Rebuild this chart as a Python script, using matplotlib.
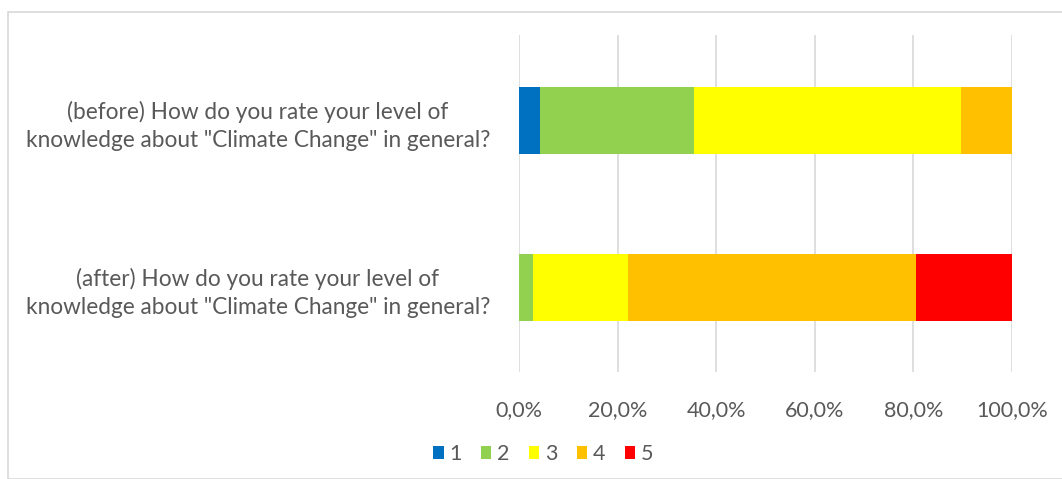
import matplotlib.pyplot as plt
from matplotlib.patches import Rectangle

questions = ['(before) How do you rate your level of\nknowledge about "Climate Change" in general?',
             '(after) How do you rate your level of\nknowledge about "Climate Change" in general?']
levels = ['1', '2', '3', '4', '5']
before = [4.2, 31.2, 54.2, 10.4, 0.0]
after = [0.0, 2.8, 19.4, 58.4, 19.4]
colors = ['#0070c0', '#92d050', '#ffff00', '#ffc000', '#ff0000']
ticks = [0, 20, 40, 60, 80, 100]

txt = '#595959'
plt.rcParams['font.family'] = ['Lato', 'DejaVu Sans']

fig = plt.figure(figsize=(10.62, 4.79), dpi=100)
fig.patches.append(Rectangle((8 / 1062, 0), 1.0, 1 - 12 / 479, transform=fig.transFigure,
                             fill=False, edgecolor='#d9d9d9', linewidth=1.2))
ax = fig.add_axes([519 / 1062, 1 - 372 / 479, 493 / 1062, 337 / 479])

data = [before, after]
for i in range(len(levels)):
    vals = [d[i] for d in data]
    lefts = [sum(d[:i]) for d in data]
    ax.barh([0, 1], vals, left=lefts, height=0.4, color=colors[i], label=levels[i], zorder=3)

ax.set_xlim(0, 100)
ax.set_ylim(1.506, -0.512)
ax.set_yticks([0, 1])
ax.set_yticklabels(questions, fontsize=16.3, color=txt, ha='center', linespacing=1.4)
ax.tick_params(axis='y', length=0, pad=188)
ax.set_xticks(ticks)
ax.set_xticklabels([('%.1f%%' % t).replace('.', ',') for t in ticks], fontsize=15.5, color=txt)
ax.tick_params(axis='x', length=0, pad=20)
ax.grid(axis='x', color='#d9d9d9', linewidth=1.2, zorder=0)
for s in ax.spines.values():
    s.set_visible(False)

fig.legend(loc='center', bbox_to_anchor=(543 / 1062, 1 - 454 / 479), ncol=5, frameon=False,
           fontsize=15.5, handlelength=0.5, handleheight=0.6, handletextpad=0.25, columnspacing=0.9,
           labelcolor=txt)

fig.savefig('out.png', dpi=100)
